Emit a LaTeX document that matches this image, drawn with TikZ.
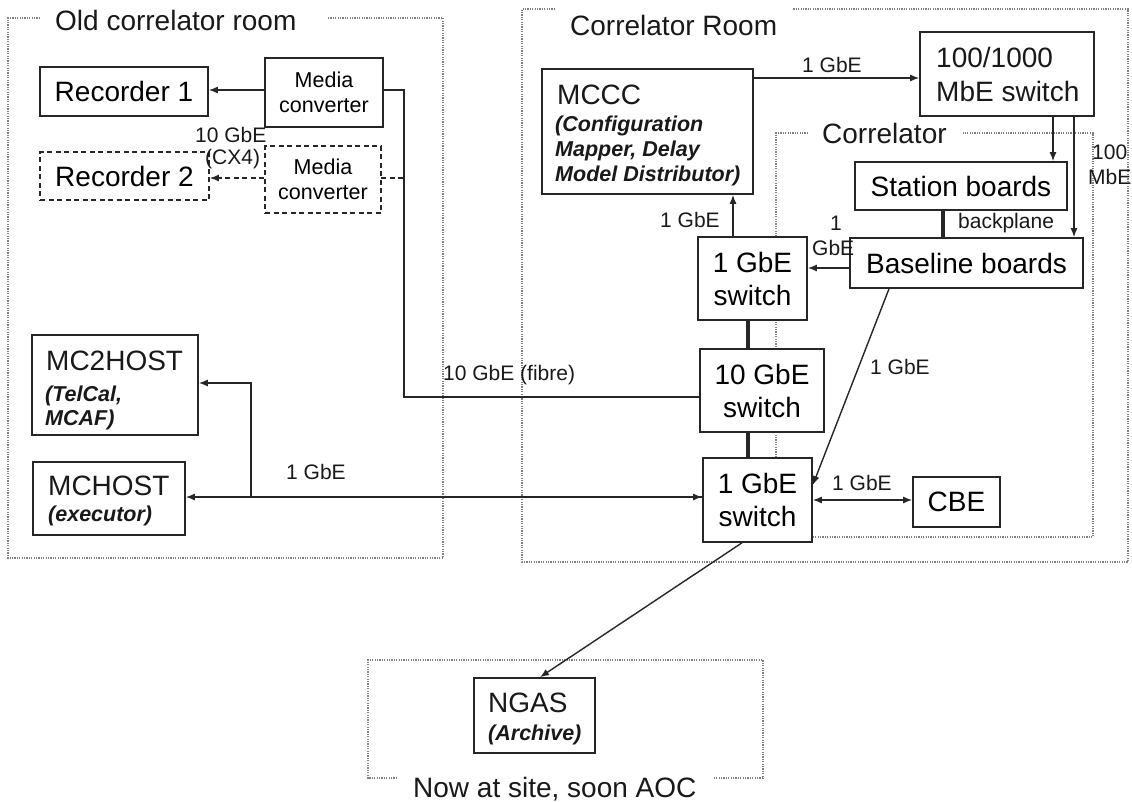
\documentclass[tikz,border=0pt]{standalone}
\usepackage{fontspec}
\setmainfont{Liberation Sans}
\usetikzlibrary{arrows.meta,calc}
\newcommand\fmain{\fontsize{28}{33}\selectfont}
\newcommand\fsub{\fontsize{21.5}{25}\selectfont}
\newcommand\flab{\fontsize{21}{24}\selectfont}
\newcommand\fbi{\fontsize{21.5}{25}\selectfont\bfseries\itshape}
\begin{document}
\begin{tikzpicture}[x=1pt,y=-1pt,
  box/.style={draw=black!85, line width=1.6pt, fill=white, inner sep=0pt, font=\fmain, align=center},
  dbox/.style={box, dash pattern=on 5pt off 3.5pt},
  frame/.style={draw=black!50, line width=1.3pt, dash pattern=on 1.2pt off 1.2pt},
  conn/.style={draw=black!85, line width=1.4pt},
  arr/.style={conn, -{Latex[length=9pt,width=7pt]}},
  darr/.style={conn, {Latex[length=9pt,width=7pt]}-{Latex[length=9pt,width=7pt]}},
  thickl/.style={draw=black!85, line width=4pt},
  lab/.style={anchor=base west, inner sep=0pt, font=\flab, text=black!90},
  ttl/.style={anchor=base west, inner sep=0pt, font=\fmain, text=black!90},
  btxt/.style={anchor=base west, inner sep=0pt, font=\fmain, text=black!90},
  stxt/.style={anchor=base west, inner sep=0pt, font=\fbi, text=black!90}
]
\useasboundingbox (0,0) rectangle (1132,801);
\fill[white] (0,0) rectangle (1132,801);

% frames
\draw[frame] (40,18) -| (8,558) -| (443,18) -- (328,18);
\draw[frame] (555,9) -| (522,562) -| (1128,9) -- (793,9);
\draw[frame] (808,133) -| (776,537) -| (1093,133) -- (963,133);
\draw[frame] (397,778) -| (368,660) -| (763,778) -- (713,778);
\node[ttl] (tOld) at (55,30) {Old correlator room};
\node[ttl] (tCR) at (570,35) {Correlator Room};
\node[ttl] (tCor) at (822,143) {Correlator};
\node[ttl] (tNow) at (413,797) {Now at site, soon AOC};

% coordinates for connector levels
\coordinate (yA) at (0,90);
\coordinate (yB) at (0,178);
\coordinate (yC) at (0,78);
\coordinate (yG) at (0,268);
\coordinate (yK) at (0,485);
\coordinate (yL) at (0,497);
\coordinate (yN) at (0,383);
\coordinate (yO) at (0,500);
\coordinate (fx) at (404,397);
\coordinate (xD) at (1053,0);
\coordinate (xE) at (1074,0);
\coordinate (xF) at (943,0);
\coordinate (xH) at (733,0);
\coordinate (xI) at (748,0);
\coordinate (xJ) at (889,0);
\coordinate (xM) at (251,0);
\coordinate (xP) at (742,0);
\coordinate (xQ) at (540,0);

% connectors (drawn before boxes)
\draw[conn] (383,90) -| (fx) -- (700,397);
\draw[conn, dash pattern=on 5pt off 3.5pt] (381,178) -- (fx |- yB);
\draw[conn] (251,497) -- (703,497);

% boxes
\node[box, minimum width=168, minimum height=49] (rec1) at (124,91.5) {Recorder 1};
\node[box, font=\fsub, minimum width=118, minimum height=69] (mc1) at (324,92.5) {Media\\converter};
\node[dbox, minimum width=169, minimum height=48] (rec2) at (124.5,176) {Recorder 2};
\node[dbox, font=\fsub, minimum width=116, minimum height=67] (mc2) at (323,179.5) {Media\\converter};
\node[box, minimum width=166, minimum height=100] (mc2host) at (115,385) {};
\node[box, minimum width=152, minimum height=73] (mchost) at (109,498.5) {};
\node[box, minimum width=211, minimum height=125] (mccc) at (647.5,131.5) {};
\node[box, minimum width=174, minimum height=84] (sw100) at (1007,74) {};
\node[box, minimum width=212, minimum height=48] (station) at (961,186) {Station boards};
\node[box, minimum width=233, minimum height=50] (baseline) at (966.5,263) {Baseline boards};
\node[box, minimum width=109, minimum height=83] (sw1a) at (752.5,278.5) {1 GbE\\switch};
\node[box, minimum width=124, minimum height=83] (sw10) at (762,390.5) {10 GbE\\switch};
\node[box, minimum width=109, minimum height=84] (sw1b) at (757.5,500) {1 GbE\\switch};
\node[box, minimum width=87, minimum height=50] (cbe) at (956.5,502) {CBE};
\node[box, minimum width=121, minimum height=75] (ngas) at (534.5,715.5) {};

% texts inside left-aligned boxes
\node[btxt] (tMCCC) at (557,104) {MCCC};
\node[stxt] (tMCCC1) at (555,131) {(Configuration};
\node[stxt] (tMCCC2) at (555,156.5) {Mapper, Delay};
\node[stxt] (tMCCC3) at (555,181.5) {Model Distributor)};
\node[btxt] (tMC2) at (46,370) {MC2HOST};
\node[stxt] (tMC2a) at (45,401) {(TelCal,};
\node[stxt] (tMC2b) at (45,425.5) {MCAF)};
\node[btxt] (tMCH) at (48,495) {MCHOST};
\node[stxt] (tMCHa) at (48,521) {(executor)};
\node[btxt] (tSw1) at (936,67) {100/1000};
\node[btxt] (tSw2) at (936,101) {MbE switch};
\node[btxt] (tNG) at (488,712) {NGAS};
\node[stxt] (tNGa) at (488,740) {(Archive)};

% connectors between boxes
\draw[arr] (mc1.west |- yA) -- (rec1.east |- yA);
\draw[arr, dash pattern=on 5pt off 3.5pt] (mc2.west |- yB) -- (rec2.east |- yB);
\draw[arr] (mccc.east |- yC) -- (sw100.west |- yC);
\draw[arr] (sw100.south -| xD) -- (station.north -| xD);
\draw[arr] (sw100.south -| xE) -- (baseline.north -| xE);
\draw[thickl] (station.south -| xF) -- (baseline.north -| xF);
\draw[arr] (baseline.west |- yG) -- (sw1a.east |- yG);
\draw[arr] (sw1a.north -| xH) -- (mccc.south -| xH);
\draw[thickl] (sw1a.south -| xI) -- (sw10.north -| xI);
\draw[thickl] (sw10.south -| xI) -- (sw1b.north -| xI);
\draw[arr] (baseline.south -| xJ) -- (sw1b.east |- yK);
\draw[darr] (sw1b.west |- yL) -- (mchost.east |- yL);
\draw[arr] (xM |- yL) |- (mc2host.east |- yN);
\draw[darr] (sw1b.east |- yO) -- (cbe.west |- yO);
\draw[arr] (sw1b.south -| xP) -- (ngas.north -| xQ);

% labels
\node[lab] (l10a) at (195,142.5) {10 GbE};
\node[lab] (l10b) at (205,164.5) {(CX4)};
\node[lab] (lfib) at (443,380) {10 GbE (fibre)};
\node[lab] (l1a) at (802,72.5) {1 GbE};
\node[lab] (l1b) at (660,227.5) {1 GbE};
\node[lab] (l100a) at (1092,159.5) {100};
\node[lab] (l100b) at (1088,184.5) {MbE};
\node[lab] (lbp) at (958,228.5) {backplane};
\node[lab] (l1c) at (830,230.5) {1};
\node[lab] (l1d) at (812,255.5) {GbE};
\node[lab] (l1e) at (870,374.5) {1 GbE};
\node[lab] (l1f) at (286,479.5) {1 GbE};
\node[lab] (l1g) at (832,490.5) {1 GbE};
\end{tikzpicture}
\end{document}
